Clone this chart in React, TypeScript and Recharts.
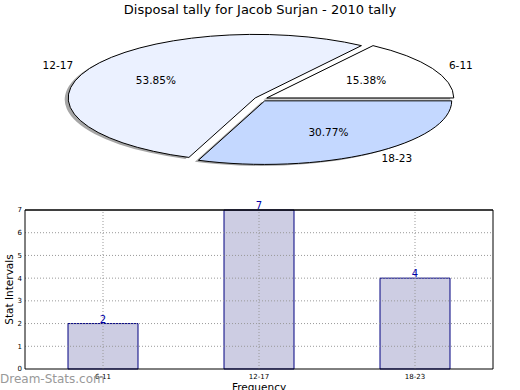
import { PieChart, Pie, BarChart, Bar, XAxis, YAxis, ReferenceLine, LabelList, Cell } from 'recharts'

const sliceNames = ['6-11', '12-17', '18-23']
const sliceValues = [2, 7, 4]
const sliceColors = ['#ffffff', '#ebf1ff', '#c4d8ff']

const barCategories = ['6-11', '12-17', '18-23']
const barValues = [2, 7, 4]
const yTicks = [0, 1, 2, 3, 4, 5, 6, 7]

const pieData = sliceNames.map((name, i) => ({ name, value: sliceValues[i] }))
const barData = barCategories.map((cat, i) => ({ cat, v: barValues[i] }))

const FONT = '"DejaVu Sans", sans-serif'
const KY = 0.34 // squash of the pie
const EXPLODE = 0.035
const RAD = Math.PI / 180

function wedgePath(cx: number, cy: number, r: number, start: number, end: number, mid: number, dx = 0, dy = 0) {
  const rx = r, ry = r * KY
  const ox = cx + EXPLODE * rx * Math.cos(mid * RAD) + dx
  const oy = cy - EXPLODE * ry * Math.sin(mid * RAD) + dy
  const x1 = ox + rx * Math.cos(start * RAD), y1 = oy - ry * Math.sin(start * RAD)
  const x2 = ox + rx * Math.cos(end * RAD), y2 = oy - ry * Math.sin(end * RAD)
  const large = Math.abs(end - start) > 180 ? 1 : 0
  return `M${ox},${oy} L${x1},${y1} A${rx},${ry} 0 ${large} 0 ${x2},${y2} Z`
}

function Wedge(p: any) {
  return <path d={wedgePath(p.cx, p.cy, p.outerRadius, p.startAngle, p.endAngle, p.midAngle)} fill={p.fill} stroke="#000" strokeWidth={1} />
}

function WedgeShadow(p: any) {
  return <path d={wedgePath(p.cx, p.cy, p.outerRadius, p.startAngle, p.endAngle, p.midAngle, -3.5, 1.5)} fill="#4d4d4d" fillOpacity={0.5} stroke="none" />
}

function PieLabel(p: any) {
  const { cx, cy, outerRadius: r, midAngle, percent, name } = p
  const c = Math.cos(midAngle * RAD), s = Math.sin(midAngle * RAD)
  const pr = 0.6 + EXPLODE, lr = 1.1 + EXPLODE
  return (
    <g fontFamily={FONT} fontSize={10.5} fill="#000">
      <text x={cx + pr * r * c} y={cy - pr * r * KY * s} textAnchor="middle" dominantBaseline="central">
        {(percent * 100).toFixed(2)}%
      </text>
      <text x={cx + lr * r * c} y={cy - lr * r * KY * s} textAnchor={c > 0 ? 'start' : 'end'} dominantBaseline="central">
        {name}
      </text>
    </g>
  )
}

function YLabel(p: any) {
  const vb = p.viewBox
  const y = vb.y + vb.height / 2
  return (
    <text x={9} y={y} transform={`rotate(-90 9 ${y})`} textAnchor="middle" dominantBaseline="central" fontFamily={FONT} fontSize={10.5} fill="#000">
      Stat Intervals
    </text>
  )
}

const grid = { stroke: '#999', strokeDasharray: '1 2', strokeWidth: 1 }

export default function App() {
  return (
    <div style={{ position: 'absolute', left: 0, top: 0, width: 520, height: 390, background: '#fff', overflow: 'hidden', fontFamily: FONT }}>
      <div style={{ position: 'absolute', top: 2, left: 0, width: 520, textAlign: 'center', fontSize: 13, color: '#000' }}>
        Disposal tally for Jacob Surjan - 2010 tally
      </div>
      <div style={{ position: 'absolute', top: 0, left: 0 }}>
        <PieChart width={520} height={190} margin={{ top: 0, right: 0, bottom: 0, left: 0 }}>
          <Pie data={pieData} dataKey="value" nameKey="name" cx={261} cy={99} outerRadius={187} startAngle={0} endAngle={360}
            shape={WedgeShadow} label={false} labelLine={false} isAnimationActive={false}>
            {pieData.map((d, i) => <Cell key={d.name} fill={sliceColors[i]} />)}
          </Pie>
          <Pie data={pieData} dataKey="value" nameKey="name" cx={261} cy={99} outerRadius={187} startAngle={0} endAngle={360}
            shape={Wedge} activeShape={Wedge} label={PieLabel} labelLine={false} isAnimationActive={false}>
            {pieData.map((d, i) => <Cell key={d.name} fill={sliceColors[i]} />)}
          </Pie>
        </PieChart>
      </div>
      <div style={{ position: 'absolute', top: 195, left: 0 }}>
        <BarChart width={520} height={195} data={barData} margin={{ top: 14, right: 26, bottom: 0, left: 0 }}>
          <XAxis dataKey="cat" height={21} tickLine={false} tickSize={0} axisLine={{ stroke: '#000' }} tick={{ fontSize: 7, fill: '#000', fontFamily: FONT }} tickMargin={5}
            label={{ value: 'Frequency', position: 'bottom', offset: -6, fontSize: 10.5, fill: '#000', fontFamily: FONT }} />
          <XAxis xAxisId="top" dataKey="cat" orientation="top" height={1} tick={false} tickLine={false} axisLine={{ stroke: '#000' }} />
          <YAxis domain={[0, 7]} ticks={yTicks} width={25} tickLine={false} tickSize={0} axisLine={{ stroke: '#000' }} tick={{ fontSize: 7, fill: '#000', fontFamily: FONT }} tickMargin={3}
            label={<YLabel />} />
          <YAxis yAxisId="right" orientation="right" domain={[0, 7]} width={1} tick={false} tickLine={false} axisLine={{ stroke: '#000' }} />
          <Bar dataKey="v" barSize={70} fill="#cdcde3" stroke="#000080" strokeWidth={1} isAnimationActive={false}>
            <LabelList dataKey="v" position="top" offset={1} fill="#0000aa" fontSize={10} fontFamily={FONT} />
          </Bar>
          {yTicks.slice(1, -1).map(t => <ReferenceLine key={'y' + t} y={t} {...grid} />)}
          {barCategories.map(c => <ReferenceLine key={'x' + c} x={c} {...grid} />)}
          <ReferenceLine y={yTicks[yTicks.length - 1]} stroke="#000" />
        </BarChart>
      </div>
      <div style={{ position: 'absolute', left: 0, top: 372, fontSize: 12, color: '#999', whiteSpace: 'nowrap' }}>
        Dream-Stats.com
      </div>
    </div>
  )
}
